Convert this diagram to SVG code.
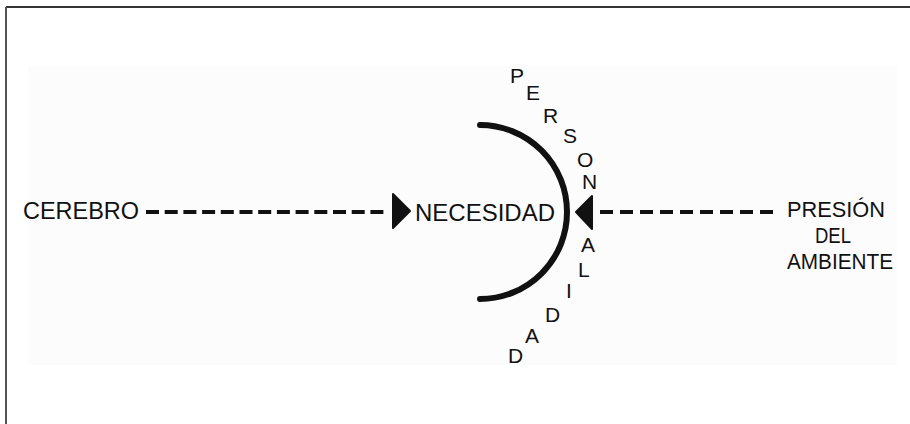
<svg xmlns="http://www.w3.org/2000/svg" width="910" height="424" viewBox="0 0 910 424">
  <style>
    .lbl { font-family: "Liberation Sans", Arial, sans-serif; font-size: 23px; fill: #111; }
    .rt { font-size: 22px; }
    .arc-l { font-family: "Liberation Sans", Arial, sans-serif; font-size: 21px; fill: #111; }
    .dash { stroke: #111; stroke-width: 4; fill: none; }
    .head { fill: #111; stroke: #111; stroke-width: 2; stroke-linejoin: round; }
  </style>
  <rect x="0" y="0" width="910" height="424" fill="#ffffff"/>
  <rect x="28" y="66" width="869" height="299" fill="#fcfcfc"/>
  <line x1="6" y1="7" x2="910" y2="7" stroke="#333" stroke-width="2"/>
  <line x1="6" y1="7" x2="6" y2="424" stroke="#555" stroke-width="2"/>

  <g id="cerebro">
    <text class="lbl" x="23" y="219" textLength="116" lengthAdjust="spacingAndGlyphs">CEREBRO</text>
  </g>
  <g id="necesidad">
    <text class="lbl" x="415" y="221" textLength="140" lengthAdjust="spacingAndGlyphs">NECESIDAD</text>
  </g>
  <g id="presion">
    <text class="lbl rt" x="836" y="217" text-anchor="middle" textLength="98" lengthAdjust="spacingAndGlyphs">PRESIÓN</text>
    <text class="lbl rt" x="833" y="243" text-anchor="middle" textLength="36" lengthAdjust="spacingAndGlyphs">DEL</text>
    <text class="lbl rt" x="840" y="269" text-anchor="middle" textLength="106" lengthAdjust="spacingAndGlyphs">AMBIENTE</text>
  </g>
  <g id="personalidad">
    <path d="M480,125 A87,87 0 0 1 480,299" fill="none" stroke="#111" stroke-width="6" stroke-linecap="round"/>
    <text class="arc-l" x="510" y="83">P</text>
    <text class="arc-l" x="526" y="100">E</text>
    <text class="arc-l" x="543" y="123">R</text>
    <text class="arc-l" x="563" y="143">S</text>
    <text class="arc-l" x="577" y="167">O</text>
    <text class="arc-l" x="582" y="189">N</text>
    <text class="arc-l" x="581" y="252">A</text>
    <text class="arc-l" x="578" y="277">L</text>
    <text class="arc-l" x="566" y="298">I</text>
    <text class="arc-l" x="545" y="322">D</text>
    <text class="arc-l" x="525" y="343">A</text>
    <text class="arc-l" x="508" y="363">D</text>
  </g>
  <g id="connectors">
    <line class="dash" x1="146" y1="212" x2="388" y2="212" stroke-dasharray="13 5.7"/>
    <polygon class="head" points="393,194 410,211 393,228"/>
    <line class="dash" x1="600" y1="212" x2="774" y2="212" stroke-dasharray="13 7"/>
    <polygon class="head" points="592,196 576,212 592,229"/>
  </g>
</svg>
